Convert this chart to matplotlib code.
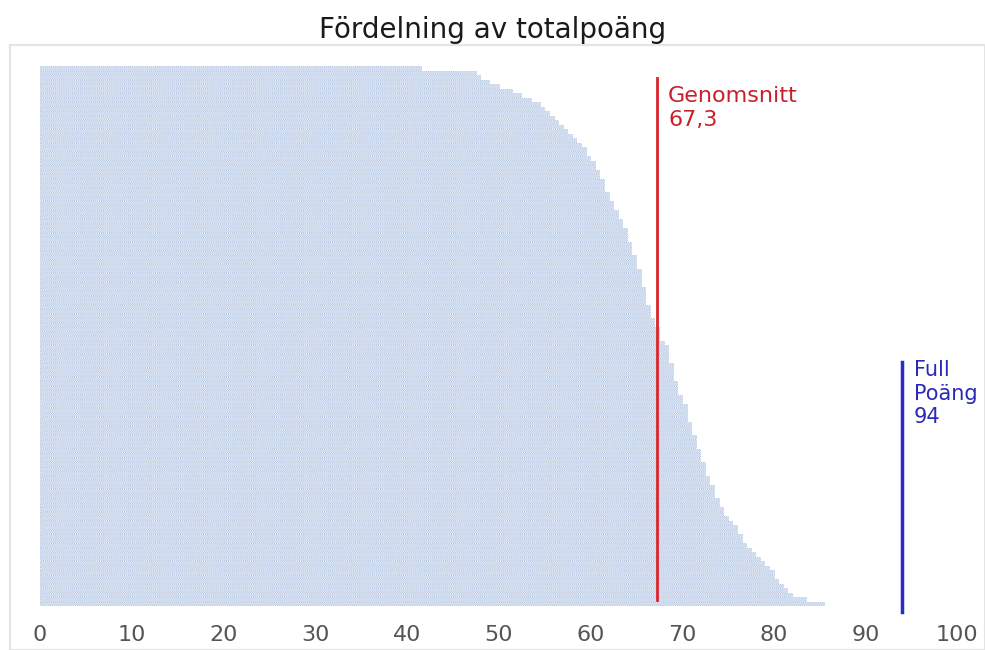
import matplotlib.pyplot as plt
from matplotlib.patches import Rectangle

# --- Data: total points per student, sorted (top bar = lowest) ---
scores = [
    41.5, 47.5, 48.0, 49.0, 50.0, 51.5, 52.5, 53.5, 54.5, 55.0,
    55.5, 56.0, 56.5, 57.0, 57.5, 58.0, 58.5, 59.0, 59.5, 59.5,
    60.0, 60.5, 60.5, 61.0, 61.0, 61.5, 61.5, 61.5, 62.0, 62.0,
    62.5, 62.5, 63.0, 63.0, 63.5, 63.5, 64.0, 64.0, 64.0, 64.5,
    64.5, 64.5, 65.0, 65.0, 65.0, 65.5, 65.5, 65.5, 65.5, 66.0,
    66.0, 66.0, 66.0, 66.5, 66.5, 66.5, 67.0, 67.0, 67.5, 67.5,
    67.5, 68.0, 68.5, 68.5, 68.5, 68.5, 69.0, 69.0, 69.0, 69.0,
    69.5, 69.5, 69.5, 70.0, 70.0, 70.5, 70.5, 70.5, 70.5, 71.0,
    71.0, 71.0, 71.5, 71.5, 71.5, 72.0, 72.0, 72.0, 72.5, 72.5,
    72.5, 73.0, 73.0, 73.5, 73.5, 73.5, 74.0, 74.0, 74.5, 74.5,
    75.0, 75.5, 76.0, 76.0, 76.5, 76.5, 77.0, 77.5, 78.0, 78.5,
    79.0, 79.5, 80.0, 80.0, 80.5, 81.0, 81.5, 82.0, 83.5, 85.5,
]
mean_score = 67.3
full_score = 94
mean_label = "Genomsnitt\n67,3"
full_label = "Full\nPoäng\n94"
title = "Fördelning av totalpoäng"
xticks = [0, 10, 20, 30, 40, 50, 60, 70, 80, 90, 100]

W, H = 985, 650
fig = plt.figure(figsize=(W / 100, H / 100), dpi=100)

# outer light frame
fig.patches.append(Rectangle((10 / W, 0), 1 - 10 / W, 1 - 45 / H, transform=fig.transFigure,
                             fill=False, edgecolor='#e4e4e4', linewidth=1.5))

ax = fig.add_axes([10 / W, 1 - 615 / H, 975 / W, 570 / H])

ypos = list(range(len(scores)))
ax.barh(ypos, scores, height=0.75, color='#d0dcef', edgecolor='#a5b8d8',
        linewidth=0.5, linestyle=(0, (1.5, 1.5)))

ax.set_xlim(-3.27, 103.05)
ax.set_ylim(121.56, -5.11)

# reference lines
ax.axvline(mean_score, ymin=0.026, ymax=0.942, color='#d9252b', linewidth=2)
ax.axvline(full_score, ymin=0.005, ymax=0.444, color='#2a2ad0', linewidth=2.5)

ax.text(mean_score + 1.2, 4.0, mean_label, color='#c8202a', fontsize=16,
        va='top', ha='left', linespacing=1.25)
ax.text(full_score + 1.3, 65.0, full_label, color='#2a2ab8', fontsize=15,
        va='top', ha='left', linespacing=1.2)

ax.set_xticks(xticks)
ax.set_xticklabels([str(t) for t in xticks], fontsize=16, color='#555555')
ax.tick_params(axis='x', length=0, pad=7)
ax.set_yticks([])
for s in ax.spines.values():
    s.set_visible(False)

fig.text(0.5, 1 - 30 / H, title, ha='center', va='center', fontsize=20, color='#1a1a1a')

fig.savefig('out.png', dpi=100)
